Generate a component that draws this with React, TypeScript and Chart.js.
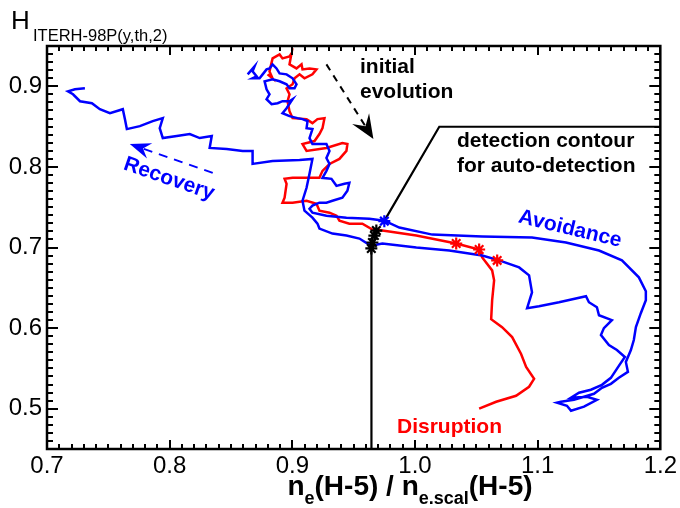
import { useEffect, useRef } from "react";
import { Chart, registerables } from "chart.js";

Chart.register(...registerables);

const FONT = '"Liberation Sans", Arial, Helvetica, sans-serif';
const BLUE = "#0000ff";
const RED = "#ff0000";

const X_TICKS = [0.7, 0.8, 0.9, 1.0, 1.1, 1.2];
const Y_TICKS = [0.5, 0.6, 0.7, 0.8, 0.9];

// Blue trajectory ("Avoidance" then "Recovery")
const BLUE_X = [
  0.8636, 0.8692, 0.8676, 0.8709, 0.8676, 0.8733, 0.8758, 0.879, 0.8814, 0.8839,
  0.8871, 0.8896, 0.8953, 0.9002, 0.9034, 0.9018, 0.8977, 0.8953, 0.8896, 0.8839,
  0.8774, 0.879, 0.8814, 0.879, 0.8831, 0.888, 0.892, 0.8977, 0.9002, 0.8953,
  0.892, 0.8977, 0.9042, 0.9083, 0.9124, 0.9116, 0.9164, 0.914, 0.9164, 0.9278,
  0.9303, 0.9278, 0.9303, 0.9278, 0.9246, 0.9319, 0.936, 0.9425, 0.9465, 0.9449,
  0.9408, 0.9327, 0.9278, 0.9221, 0.9164, 0.914, 0.9164, 0.9278, 0.9441, 0.9628,
  0.975, 0.9872, 1.0141, 1.0548, 1.0954, 1.1231, 1.15, 1.1687, 1.1825, 1.1882,
  1.1882, 1.1841, 1.1801, 1.1784, 1.176, 1.1719, 1.1736, 1.1662, 1.1597, 1.1524,
  1.1459, 1.1378, 1.1296, 1.119, 1.1158, 1.1239, 1.1272, 1.1378, 1.1483, 1.1402,
  1.1272, 1.1337, 1.1434, 1.1524, 1.1597, 1.1662, 1.1711, 1.1646, 1.1581, 1.1516,
  1.154, 1.1605, 1.15, 1.1483, 1.1418, 1.1394, 1.1174, 1.1011, 1.0914, 1.0954,
  1.093, 1.0849, 1.0686, 1.0548, 1.0279, 1.0011, 0.9734, 0.9653, 0.9612, 0.9547,
  0.9441, 0.9327, 0.9221, 0.9205, 0.9164, 0.9099, 0.9083, 0.9116, 0.914, 0.9164,
  0.9059, 0.8839, 0.8676, 0.8676, 0.8595, 0.8465, 0.8326, 0.8343, 0.8245, 0.8164,
  0.8058, 0.7944, 0.7919, 0.7944, 0.7862, 0.7757, 0.7651, 0.7635, 0.7618, 0.7513,
  0.7431, 0.7366, 0.7269, 0.7212, 0.7171, 0.7228, 0.7309,
];
const BLUE_Y = [
  0.9148, 0.9247, 0.9185, 0.9123, 0.9099, 0.9099, 0.9148, 0.921, 0.9222, 0.9272,
  0.9222, 0.916, 0.9148, 0.9099, 0.9025, 0.8975, 0.8975, 0.9025, 0.9062, 0.9086,
  0.9062, 0.8963, 0.8901, 0.884, 0.8778, 0.879, 0.8815, 0.8815, 0.884, 0.8728,
  0.8667, 0.863, 0.8605, 0.8593, 0.8568, 0.8481, 0.8469, 0.8358, 0.8284, 0.8284,
  0.8198, 0.8111, 0.8037, 0.7951, 0.7864, 0.7852, 0.7765, 0.779, 0.7802, 0.7704,
  0.7617, 0.758, 0.7556, 0.7556, 0.7519, 0.7481, 0.7432, 0.7395, 0.737, 0.7358,
  0.7333, 0.7247, 0.716, 0.7136, 0.7123, 0.7062, 0.6963, 0.684, 0.663, 0.6457,
  0.6346, 0.6185, 0.6012, 0.5852, 0.5728, 0.558, 0.5457, 0.5383, 0.5309, 0.5259,
  0.5185, 0.5148, 0.5111, 0.5086, 0.5074, 0.5037, 0.4975, 0.5025, 0.5111, 0.5148,
  0.5136, 0.5198, 0.5235, 0.5296, 0.5383, 0.5531, 0.5642, 0.5728, 0.579, 0.5914,
  0.6, 0.6099, 0.616, 0.6259, 0.6321, 0.6395, 0.6321, 0.6272, 0.6247, 0.6444,
  0.6654, 0.6753, 0.684, 0.6901, 0.6963, 0.7, 0.7049, 0.7025, 0.7049, 0.7111,
  0.7148, 0.7173, 0.7235, 0.7296, 0.737, 0.7457, 0.758, 0.7741, 0.7914, 0.8099,
  0.8086, 0.8074, 0.8037, 0.8198, 0.8198, 0.8222, 0.8235, 0.8383, 0.8358, 0.8407,
  0.8383, 0.8358, 0.8481, 0.8605, 0.8568, 0.8506, 0.8469, 0.8593, 0.8716, 0.8667,
  0.8716, 0.879, 0.8815, 0.8901, 0.8938, 0.8963, 0.8975,
];

// Red trajectory ("Disruption")
const RED_X = [
  0.8798, 0.8839, 0.8814, 0.8839, 0.8896, 0.892, 0.8977, 0.8993, 0.8977, 0.9034,
  0.9075, 0.9083, 0.914, 0.9197, 0.9164, 0.9099, 0.9059, 0.9018, 0.9002, 0.8953,
  0.8977, 0.8961, 0.8977, 0.9002, 0.9116, 0.9164, 0.9205, 0.9262, 0.9246, 0.9221,
  0.9181, 0.9083, 0.9116, 0.9278, 0.9408, 0.9449, 0.9441, 0.9384, 0.9303, 0.9246,
  0.9221, 0.914, 0.9002, 0.8937, 0.8953, 0.8937, 0.892, 0.9002, 0.9116, 0.9197,
  0.9221, 0.9303, 0.936, 0.9384, 0.9465, 0.9571, 0.9653, 0.9734, 1.0011, 1.0336,
  1.0523, 1.0548, 1.0629, 1.0645, 1.0629, 1.0621, 1.071, 1.0792, 1.0865, 1.0906,
  1.0971, 1.093, 1.0824, 1.0662, 1.0523,
];
const RED_Y = [
  0.9148, 0.9099, 0.9185, 0.9346, 0.9395, 0.9346, 0.937, 0.9407, 0.9272, 0.9222,
  0.9272, 0.921, 0.9222, 0.921, 0.9148, 0.9099, 0.9148, 0.9099, 0.9025, 0.8975,
  0.8901, 0.8815, 0.8691, 0.8605, 0.8593, 0.8543, 0.8593, 0.8605, 0.8481, 0.8407,
  0.8321, 0.8284, 0.8198, 0.8235, 0.8296, 0.8284, 0.8198, 0.8099, 0.8037, 0.7951,
  0.7864, 0.7864, 0.7864, 0.7852, 0.779, 0.7617, 0.7556, 0.7556, 0.758, 0.7543,
  0.7457, 0.7432, 0.7395, 0.7333, 0.7296, 0.7296, 0.7222, 0.721, 0.7148, 0.7049,
  0.6975, 0.6877, 0.6716, 0.6593, 0.6346, 0.6111, 0.6012, 0.5889, 0.5679, 0.5519,
  0.537, 0.5272, 0.516, 0.5086, 0.5,
];

const RED_STAR_X = [1.0336, 1.0523, 1.067];
const RED_STAR_Y = [0.7049, 0.6975, 0.684];
const BLACK_STAR_X = [0.9644, 0.9653, 0.9669, 0.9685];
const BLACK_STAR_Y = [0.6988, 0.7062, 0.7148, 0.721];
const BLUE_STAR_X = [0.975];
const BLUE_STAR_Y = [0.7327];

// detection contour
const CONTOUR_V_X = [0.9645, 0.9645];
const CONTOUR_V_Y = [0.45, 0.699];
const CONTOUR_D_X = [0.975, 1.0198, 1.2];
const CONTOUR_D_Y = [0.733, 0.8498, 0.8498];

// annotation arrows (tail, tip)
const ARROW_INIT_X = [0.9278, 0.9661];
const ARROW_INIT_Y = [0.9272, 0.8346];
const ARROW_REC_X = [0.8351, 0.7675];
const ARROW_REC_Y = [0.7926, 0.8284];

const pts = (xs: number[], ys: number[]) => xs.map((x, i) => ({ x, y: ys[i] }));

function drawArrow(
  ctx: CanvasRenderingContext2D,
  x0: number, y0: number, x1: number, y1: number,
  color: string, dash: number[], headLen: number, headHalf: number, notch: number
) {
  const ang = Math.atan2(y1 - y0, x1 - x0);
  const ux = Math.cos(ang), uy = Math.sin(ang);
  const px = -uy, py = ux;
  const bx = x1 - ux * notch, by = y1 - uy * notch;
  ctx.save();
  ctx.strokeStyle = color;
  ctx.lineWidth = 2;
  ctx.setLineDash(dash);
  ctx.beginPath();
  ctx.moveTo(x0, y0);
  ctx.lineTo(bx, by);
  ctx.stroke();
  ctx.setLineDash([]);
  ctx.fillStyle = color;
  ctx.beginPath();
  ctx.moveTo(x1, y1);
  ctx.lineTo(x1 - ux * headLen + px * headHalf, y1 - uy * headLen + py * headHalf);
  ctx.lineTo(bx, by);
  ctx.lineTo(x1 - ux * headLen - px * headHalf, y1 - uy * headLen - py * headHalf);
  ctx.closePath();
  ctx.fill();
  ctx.restore();
}

const framePlugin = {
  id: "frameTicks",
  afterDraw(chart: any) {
    const ctx: CanvasRenderingContext2D = chart.ctx;
    const xs = chart.scales.x;
    const ys = chart.scales.y;
    const a = chart.chartArea;
    ctx.save();
    ctx.setLineDash([]);
    ctx.fillStyle = "#000";
    for (let i = 70; i <= 120; i++) {
      const p = Math.round(xs.getPixelForValue(i / 100));
      const len = i % 10 === 0 ? 9 : 5;
      ctx.fillRect(p - 1, a.bottom - len, 2, len);
      ctx.fillRect(p - 1, a.top, 2, len);
    }
    for (let i = 45; i <= 95; i++) {
      const p = Math.round(ys.getPixelForValue(i / 100));
      const len = i % 10 === 0 ? 11 : 6;
      ctx.fillRect(a.left, p - 1, len, 2);
      ctx.fillRect(a.right - len, p - 1, len, 2);
    }
    ctx.lineWidth = 2.5;
    ctx.strokeStyle = "#000";
    ctx.strokeRect(a.left, a.top, a.right - a.left, a.bottom - a.top);
    ctx.restore();
  },
};

const decorPlugin = {
  id: "decor",
  afterDraw(chart: any) {
    const ctx: CanvasRenderingContext2D = chart.ctx;
    const xs = chart.scales.x;
    const ys = chart.scales.y;

    drawArrow(ctx,
      xs.getPixelForValue(ARROW_INIT_X[0]), ys.getPixelForValue(ARROW_INIT_Y[0]),
      xs.getPixelForValue(ARROW_INIT_X[1]), ys.getPixelForValue(ARROW_INIT_Y[1]),
      "#000", [7, 6], 24, 10, 15);
    drawArrow(ctx,
      xs.getPixelForValue(ARROW_REC_X[0]), ys.getPixelForValue(ARROW_REC_Y[0]),
      xs.getPixelForValue(ARROW_REC_X[1]), ys.getPixelForValue(ARROW_REC_Y[1]),
      BLUE, [9, 7], 21, 8, 14);

    ctx.save();
    ctx.fillStyle = "#000";
    ctx.textAlign = "left";
    ctx.textBaseline = "alphabetic";
    ctx.font = `26px ${FONT}`;
    ctx.fillText("H", 11, 29);
    ctx.font = `16.5px ${FONT}`;
    ctx.fillText("ITERH-98P(y,th,2)", 33, 41);

    const parts: [string, boolean][] = [
      ["n", false], ["e", true], ["(H-5) / n", false], ["e.scal", true], ["(H-5)", false],
    ];
    const mainF = `bold 28px ${FONT}`;
    const subF = `bold 18px ${FONT}`;
    let total = 0;
    for (const [t, sub] of parts) {
      ctx.font = sub ? subF : mainF;
      total += ctx.measureText(t).width;
    }
    let cx = 410 - total / 2;
    for (const [t, sub] of parts) {
      ctx.font = sub ? subF : mainF;
      ctx.fillText(t, cx, sub ? 504 : 495);
      cx += ctx.measureText(t).width;
    }

    ctx.font = `bold 21px ${FONT}`;
    ctx.fillStyle = "#000";
    ctx.fillText("initial", 360, 73);
    ctx.fillText("evolution", 360, 98);
    ctx.fillText("detection contour", 457, 147);
    ctx.fillText("for auto-detection", 457, 172);
    ctx.fillStyle = RED;
    ctx.fillText("Disruption", 397, 433);

    const rot = (t: string, x: number, y: number, deg: number, color: string) => {
      ctx.save();
      ctx.translate(x, y);
      ctx.rotate((deg * Math.PI) / 180);
      ctx.fillStyle = color;
      ctx.textAlign = "center";
      ctx.textBaseline = "middle";
      ctx.fillText(t, 0, 0);
      ctx.restore();
    };
    rot("Recovery", 169, 179, 19, BLUE);
    rot("Avoidance", 570, 229, 13.5, BLUE);
    ctx.restore();
  },
};

export default function App() {
  const ref = useRef<HTMLCanvasElement | null>(null);
  useEffect(() => {
    document.body.style.margin = "0";
    const canvas = ref.current!;
    const line = (xs: number[], ys: number[], color: string, order: number, w = 2.5) => ({
      data: pts(xs, ys),
      showLine: true,
      borderColor: color,
      backgroundColor: color,
      borderWidth: w,
      pointRadius: 0,
      fill: false,
      tension: 0,
      order,
    });
    const stars = (xs: number[], ys: number[], color: string) => ({
      data: pts(xs, ys),
      showLine: false,
      pointStyle: "star",
      pointRadius: 6,
      pointBorderWidth: 2.2,
      borderColor: color,
      backgroundColor: color,
      order: 0,
    });
    const chart = new Chart(canvas, {
      type: "scatter",
      data: {
        datasets: [
          line(CONTOUR_V_X, CONTOUR_V_Y, "#000", 3, 2.2),
          line(CONTOUR_D_X, CONTOUR_D_Y, "#000", 3, 2.2),
          line(RED_X, RED_Y, RED, 2),
          line(BLUE_X, BLUE_Y, BLUE, 1),
          stars(RED_STAR_X, RED_STAR_Y, RED),
          stars(BLACK_STAR_X, BLACK_STAR_Y, "#000"),
          stars(BLUE_STAR_X, BLUE_STAR_Y, BLUE),
        ] as any,
      },
      options: {
        animation: false,
        responsive: false,
        maintainAspectRatio: false,
        layout: { padding: { top: 46, right: 18, left: 0, bottom: 0 } },
        plugins: { legend: { display: false }, tooltip: { enabled: false } },
        scales: {
          x: {
            type: "linear",
            min: 0.7,
            max: 1.2,
            afterBuildTicks: (s: any) => {
              s.ticks = X_TICKS.map((v) => ({ value: v }));
            },
            afterFit: (s: any) => {
              s.height = 59;
            },
            ticks: {
              font: { family: FONT, size: 24 },
              color: "#000",
              padding: 3,
              maxRotation: 0,
              autoSkip: false,
              callback: (v: any) => Number(v).toFixed(1),
            },
            grid: { display: false, drawTicks: false },
            border: { display: false },
          },
          y: {
            type: "linear",
            min: 0.45,
            max: 0.95,
            afterBuildTicks: (s: any) => {
              s.ticks = Y_TICKS.map((v) => ({ value: v }));
            },
            afterFit: (s: any) => {
              s.width = 47;
            },
            ticks: {
              font: { family: FONT, size: 24 },
              color: "#000",
              padding: 5,
              autoSkip: false,
              callback: (v: any) => Number(v).toFixed(1),
            },
            grid: { display: false, drawTicks: false },
            border: { display: false },
          },
        },
      } as any,
      plugins: [framePlugin, decorPlugin],
    });
    return () => chart.destroy();
  }, []);
  return (
    <div style={{ position: "absolute", left: 0, top: 0, width: 680, height: 508, background: "#fff" }}>
      <canvas ref={ref} width={680} height={508} style={{ width: 680, height: 508, display: "block" }} />
    </div>
  );
}
